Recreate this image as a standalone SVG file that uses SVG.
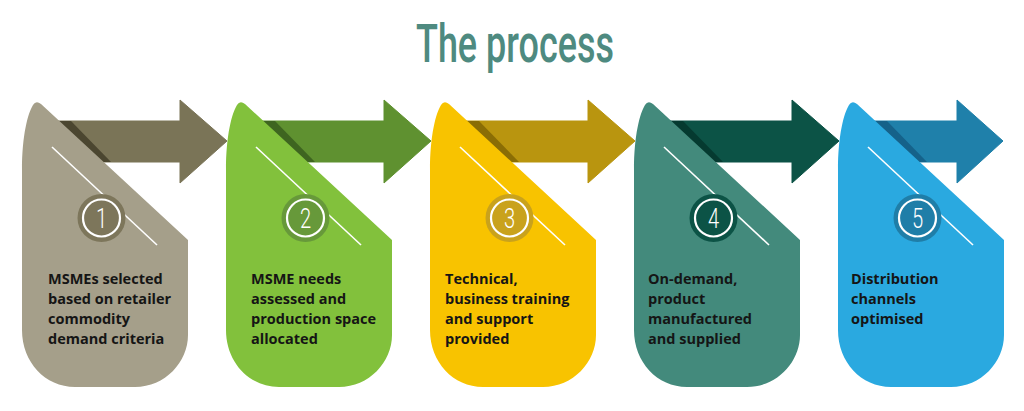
<svg xmlns="http://www.w3.org/2000/svg" width="1024" height="411" viewBox="0 0 1024 411">
<style>
.title{font-family:"Roboto","Liberation Sans",sans-serif;font-weight:500;font-size:53px;fill:#4e8a80}
.lbl{font-family:"Open Sans","Liberation Sans",sans-serif;font-weight:bold;font-size:14.5px;fill:#151515}
.num{font-family:"Roboto","DejaVu Sans",sans-serif;font-weight:300;font-size:28px;fill:#fff}
.ring{fill:none;stroke:#fff;stroke-width:2.2}
.wl{stroke:#fff;stroke-width:1.6}
</style>
<defs>
<path id="shape" d="M0,170 C0,135 6,113 11,105 Q14,100 19,104 L166,240 L166,335 C166,362 143,387 113,387 L53,387 C23,387 0,362 0,330 Z"/>
<path id="shadow" d="M28,121 L49,121 L89,162 L68,162 Z"/>
</defs>
<text class="title" transform="translate(515,62) scale(0.78,1)" x="0" y="0" text-anchor="middle" textLength="254" lengthAdjust="spacingAndGlyphs">The process</text>
<g id="connectors">
<g id="arrow1"><path d="M50,121 H180 V100 L227,141 L180,183 V162 H50 Z" fill="#7a7457" stroke="#7a7457" stroke-width="1" stroke-linejoin="round"/><use href="#shadow" x="22" fill="#4b4630"/></g>
<g id="arrow2"><path d="M254,121 H384 V100 L431,141 L384,183 V162 H254 Z" fill="#5f9130" stroke="#5f9130" stroke-width="1" stroke-linejoin="round"/><use href="#shadow" x="226" fill="#3e6520"/></g>
<g id="arrow3"><path d="M458,121 H588 V100 L635,141 L588,183 V162 H458 Z" fill="#b9950f" stroke="#b9950f" stroke-width="1" stroke-linejoin="round"/><use href="#shadow" x="430" fill="#8a6d05"/></g>
<g id="arrow4"><path d="M662,121 H792 V100 L839,141 L792,183 V162 H662 Z" fill="#0c5346" stroke="#0c5346" stroke-width="1" stroke-linejoin="round"/><use href="#shadow" x="634" fill="#053a30"/></g>
<g id="arrow5"><path d="M866,121 H957 V100 L1003,141 L957,183 V162 H866 Z" fill="#1f80aa" stroke="#1f80aa" stroke-width="1" stroke-linejoin="round"/><use href="#shadow" x="838" fill="#15628a"/></g>
</g>
<g id="node1">
<use href="#shape" x="22" fill="#a59f8a"/>
<line class="wl" x1="52" y1="147" x2="157" y2="245"/>
<circle cx="101.5" cy="218" r="24" fill="#7d765b"/><circle class="ring" cx="101.5" cy="218" r="18.5"/>
<text class="num" transform="translate(101.5,228) scale(0.72,1)" text-anchor="middle">1</text>
<text class="lbl" x="48" y="284">MSMEs selected</text>
<text class="lbl" x="48" y="304">based on retailer</text>
<text class="lbl" x="48" y="324">commodity</text>
<text class="lbl" x="48" y="344">demand criteria</text>
</g>
<g id="node2">
<use href="#shape" x="226" fill="#82c13c"/>
<line class="wl" x1="256" y1="147" x2="361" y2="245"/>
<circle cx="305.5" cy="218" r="24" fill="#67993a"/><circle class="ring" cx="305.5" cy="218" r="18.5"/>
<text class="num" transform="translate(305.5,228) scale(0.72,1)" text-anchor="middle">2</text>
<text class="lbl" x="251" y="284">MSME needs</text>
<text class="lbl" x="251" y="304">assessed and</text>
<text class="lbl" x="251" y="324">production space</text>
<text class="lbl" x="251" y="344">allocated</text>
</g>
<g id="node3">
<use href="#shape" x="430" fill="#f8c300"/>
<line class="wl" x1="460" y1="147" x2="565" y2="245"/>
<circle cx="509.5" cy="218" r="24" fill="#c9a21c"/><circle class="ring" cx="509.5" cy="218" r="18.5"/>
<text class="num" transform="translate(509.5,228) scale(0.72,1)" text-anchor="middle">3</text>
<text class="lbl" x="445" y="284">Technical,</text>
<text class="lbl" x="445" y="304">business training</text>
<text class="lbl" x="445" y="324">and support</text>
<text class="lbl" x="445" y="344">provided</text>
</g>
<g id="node4">
<use href="#shape" x="634" fill="#438a7c"/>
<line class="wl" x1="664" y1="147" x2="769" y2="245"/>
<circle cx="713.5" cy="218" r="24" fill="#0c5346"/><circle class="ring" cx="713.5" cy="218" r="18.5"/>
<text class="num" transform="translate(713.5,228) scale(0.72,1)" text-anchor="middle">4</text>
<text class="lbl" x="648" y="284">On-demand,</text>
<text class="lbl" x="648" y="304">product</text>
<text class="lbl" x="648" y="324">manufactured</text>
<text class="lbl" x="648" y="344">and supplied</text>
</g>
<g id="node5">
<use href="#shape" x="838" fill="#2aa9e0"/>
<line class="wl" x1="868" y1="147" x2="973" y2="245"/>
<circle cx="917.5" cy="218" r="24" fill="#1f7ea8"/><circle class="ring" cx="917.5" cy="218" r="18.5"/>
<text class="num" transform="translate(917.5,228) scale(0.72,1)" text-anchor="middle">5</text>
<text class="lbl" x="851" y="284">Distribution</text>
<text class="lbl" x="851" y="304">channels</text>
<text class="lbl" x="851" y="324">optimised</text>
</g>
</svg>
